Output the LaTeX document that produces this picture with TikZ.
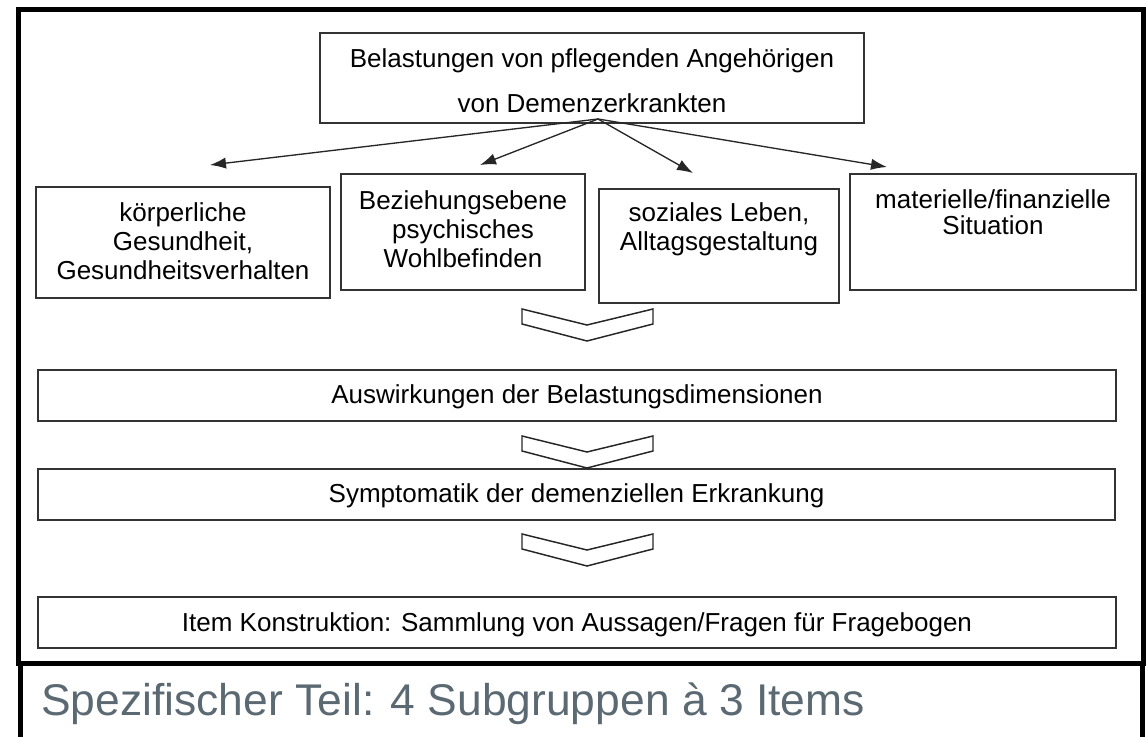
\documentclass[tikz,border=0pt]{standalone}
\usepackage{fontspec}
\setmainfont{Liberation Sans}
\usetikzlibrary{arrows.meta}
\definecolor{boxline}{HTML}{333333}
\definecolor{subgrp}{HTML}{5B6973}
\newcommand{\pxu}{0.75pt}

\begin{document}
\begin{tikzpicture}[x=0.75pt,y=-0.75pt,>={Latex[length=12pt,width=8.5pt]},
	kasten/.style={draw=boxline,line width=1.1pt,rectangle,inner sep=0pt},
	txt/.style={align=center,inner sep=0pt,anchor=base,font=\fontsize{19.5}{21.75}\selectfont},
	pfeil/.style={->,line width=1pt,draw=black!85},
	chevron/.style={draw=black!85,line width=1.1pt,line join=miter}]
	\useasboundingbox (0,0) rectangle (1146,737);
	% Rahmen
	\draw[line width=3.75pt] (18.5,10) rectangle (1143.5,663);
	\draw[line width=3.75pt] (20.5,663) -- (20.5,745) (1142.5,663) -- (1142.5,745);
	% Kaesten
	\node[kasten,minimum width=544*\pxu,minimum height=90*\pxu] (belast) at (592,78) {};
	\node[kasten,minimum width=294*\pxu,minimum height=111*\pxu] (koerper) at (183,242.5) {};
	\node[kasten,minimum width=244*\pxu,minimum height=116*\pxu] (bezieh) at (463,232) {};
	\node[kasten,minimum width=240*\pxu,minimum height=114*\pxu] (sozial) at (719,246) {};
	\node[kasten,minimum width=286*\pxu,minimum height=116*\pxu] (materiell) at (993,232) {};
	\node[kasten,minimum width=1078*\pxu,minimum height=51*\pxu] (ausw) at (577,395.5) {};
	\node[kasten,minimum width=1077*\pxu,minimum height=51*\pxu] (sympt) at (576.5,494.5) {};
	\node[kasten,minimum width=1078*\pxu,minimum height=51*\pxu] (item) at (577,622.5) {};
	% Texte (Basis = letzte Zeile)
	\node[txt,font=\fontsize{19.5}{33.75}\selectfont] (belasttxt) at (592,113) {Belastungen von pflegenden Angehörigen\\von Demenzerkrankten};
	\node[txt] (koerpertxt) at (183,280) {körperliche\\Gesundheit,\\Gesundheitsverhalten};
	\node[txt] (beziehtxt) at (463,268) {Beziehungsebene\\psychisches\\Wohlbefinden};
	\node[txt] (sozialtxt) at (719,251) {soziales Leben,\\Alltagsgestaltung};
	\node[txt,font=\fontsize{19.5}{19.5}\selectfont] (materielltxt) at (993,235) {materielle/finanzielle\\Situation};
	\node[txt] (auswtxt) at (577,404) {Auswirkungen der Belastungsdimensionen};
	\node[txt] (sympttxt) at (576.5,503) {Symptomatik der demenziellen Erkrankung};
	\node[txt] (itemtxt) at (577,631) {Item Konstruktion: Sammlung von Aussagen/Fragen für Fragebogen};
	\node[anchor=base west,inner sep=0pt,text=subgrp,font=\fontsize{33.3}{40}\selectfont] (spez) at (41,715) {Spezifischer Teil: 4 Subgruppen à 3 Items};
	% Pfeile
	\coordinate (quelle) at (598,119);
	\coordinate (z1) at (210,165);
	\coordinate (z2) at (480,165);
	\coordinate (z3) at (693,173);
	\coordinate (z4) at (887,167);
	\foreach \z in {z1,z2,z3,z4}
		\draw[pfeil] (quelle) -- (\z);
	% Winkel
	\foreach \y in {309,436,534}
		\draw[chevron] (522,\y) -- (587,\y+16) -- (653,\y) -- (653,\y+15) -- (587,\y+32) -- (522,\y+15) -- cycle;
\end{tikzpicture}
\end{document}
